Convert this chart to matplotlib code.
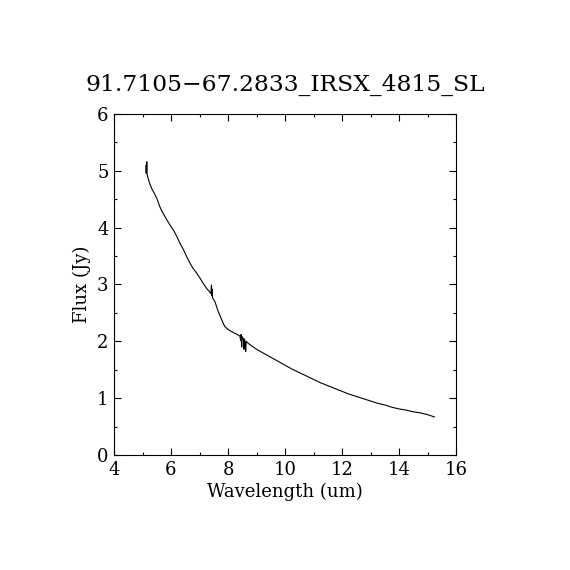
import matplotlib
matplotlib.use("Agg")
import matplotlib.pyplot as plt
from matplotlib.ticker import MultipleLocator

title = "91.7105\u221267.2833_IRSX_4815_SL"
xlabel = "Wavelength (um)"
ylabel = "Flux (Jy)"

wavelength = [5.12, 5.13, 5.14, 5.15, 5.16, 5.18, 5.23, 5.32, 5.42, 5.50, 5.60, 5.67,
              5.76, 5.85, 5.96, 6.08, 6.20, 6.32, 6.44, 6.55, 6.66, 6.78, 6.90,
              7.02, 7.13, 7.25, 7.34, 7.40, 7.42, 7.43, 7.44, 7.46, 7.50, 7.54, 7.60,
              7.66, 7.72, 7.78, 7.84, 7.89, 8.00, 8.13, 8.25, 8.36, 8.42, 8.44,
              8.46, 8.48, 8.50, 8.54, 8.56, 8.58, 8.60, 8.62, 8.64, 8.70, 8.77,
              9.0, 9.25, 9.5, 9.75, 10.0, 10.25, 10.5, 10.75, 11.0, 11.25, 11.5,
              11.75, 12.0, 12.25, 12.5, 12.75, 13.0, 13.25, 13.5, 13.75, 14.0,
              14.25, 14.5, 14.75, 15.0, 15.12, 15.24]
flux = [4.96, 5.10, 4.98, 5.16, 4.95, 4.90, 4.81, 4.69, 4.60, 4.52, 4.38, 4.30,
        4.22, 4.14, 4.05, 3.96, 3.85, 3.72, 3.61, 3.49, 3.38, 3.28, 3.20,
        3.11, 3.02, 2.93, 2.88, 2.84, 2.99, 2.80, 2.92, 2.76, 2.73, 2.70, 2.61,
        2.52, 2.45, 2.38, 2.31, 2.26, 2.21, 2.17, 2.14, 2.11, 2.09, 2.02,
        2.12, 1.90, 2.08, 2.05, 1.86, 2.04, 1.98, 1.82, 2.00, 1.97, 1.94,
        1.86, 1.79, 1.72, 1.65, 1.58, 1.51, 1.45, 1.39, 1.33, 1.27, 1.22,
        1.17, 1.12, 1.07, 1.03, 0.99, 0.95, 0.91, 0.88, 0.84, 0.81,
        0.79, 0.76, 0.74, 0.71, 0.69, 0.67]

plt.rcParams['font.family'] = ['DejaVu Serif']
fig = plt.figure(figsize=(5.7, 5.7), dpi=100)
ax = fig.add_axes([0.2, 0.2018, 0.6, 0.5982])
ax.plot(wavelength, flux, color='black', lw=0.8)
ax.set_xlim(4, 16)
ax.set_ylim(0, 6)
ax.xaxis.set_major_locator(MultipleLocator(2))
ax.xaxis.set_minor_locator(MultipleLocator(1))
ax.yaxis.set_major_locator(MultipleLocator(1))
ax.yaxis.set_minor_locator(MultipleLocator(0.5))
ax.tick_params(which='both', direction='in', top=True, right=True, width=0.8, labelsize=13)
ax.tick_params(which='major', length=5, pad=4)
ax.tick_params(which='minor', length=2.5)
for s in ax.spines.values():
    s.set_linewidth(0.8)
ax.set_xlabel(xlabel, fontsize=13, labelpad=3)
ax.set_ylabel(ylabel, fontsize=13, labelpad=4)
ax.set_title(title, fontsize=16.8, pad=17)
fig.savefig("out.png", dpi=100)
